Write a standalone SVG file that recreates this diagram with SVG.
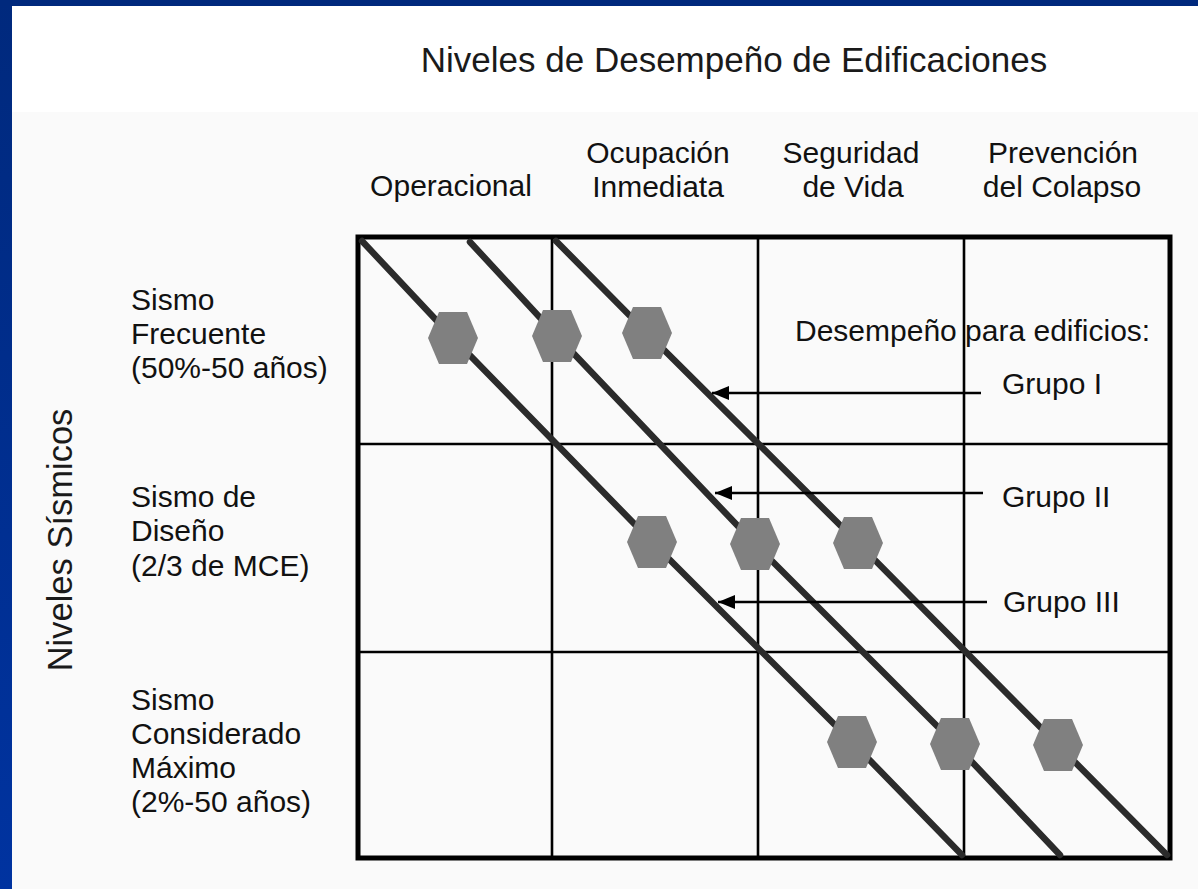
<svg xmlns="http://www.w3.org/2000/svg" width="1198" height="889" viewBox="0 0 1198 889">
  <defs>
    <linearGradient id="leftBlue" x1="0" y1="0" x2="0" y2="1">
      <stop offset="0" stop-color="#00297d"/>
      <stop offset="1" stop-color="#0033a0"/>
    </linearGradient>
    <marker id="arrowHead" markerUnits="userSpaceOnUse" markerWidth="18" markerHeight="16" refX="17" refY="7" orient="auto">
      <path d="M0,0 L17,7 L0,14 Z" fill="#000"/>
    </marker>
    <polygon id="hex" points="-25,0 -14,-26 14,-26 25,0 14,26 -14,26"/>
  </defs>
  <style>
    .t { font-family: "Liberation Sans", Arial, sans-serif; font-size: 30px; fill: #111; }
    .big { font-size: 35px; fill: #1a1a1a; }
    .mid { text-anchor: middle; }
    .outer { fill: none; stroke: #000; stroke-width: 5; }
    .inner { stroke: #000; stroke-width: 2.6; }
    .diag { fill: none; stroke: #2b2b2b; stroke-width: 6.5; stroke-linecap: round; stroke-linejoin: round; }
    .hexfill { fill: #808080; }
    .arrow { stroke: #000; stroke-width: 2.4; marker-end: url(#arrowHead); }
  </style>

  <!-- background and frame -->
  <rect x="0" y="0" width="1198" height="889" fill="#ffffff"/>
  <rect x="12" y="112" width="1186" height="777" fill="#fafafa"/>
  <rect x="0" y="0" width="12" height="889" fill="url(#leftBlue)"/>
  <rect x="0" y="0" width="1198" height="6" fill="#00297d"/>

  <!-- title -->
  <g id="title">
    <text class="t big mid" x="734" y="72">Niveles de Desempeño de Edificaciones</text>
  </g>

  <!-- vertical axis label -->
  <g id="axis-label">
    <text class="t big mid" transform="translate(72,540) rotate(-90)" x="0" y="0" style="font-size:34.5px">Niveles Sísmicos</text>
  </g>

  <!-- column headers -->
  <g id="col-operacional">
    <text class="t mid" x="451" y="196">Operacional</text>
  </g>
  <g id="col-ocupacion">
    <text class="t mid" x="658" y="163">Ocupación</text>
    <text class="t mid" x="658" y="197">Inmediata</text>
  </g>
  <g id="col-seguridad">
    <text class="t mid" x="851" y="163">Seguridad</text>
    <text class="t mid" x="853" y="197">de Vida</text>
  </g>
  <g id="col-prevencion">
    <text class="t mid" x="1063" y="163">Prevención</text>
    <text class="t mid" x="1062" y="197">del Colapso</text>
  </g>

  <!-- row labels -->
  <g id="row-frecuente">
    <text class="t" x="131" y="310">Sismo</text>
    <text class="t" x="131" y="344">Frecuente</text>
    <text class="t" x="131" y="378">(50%-50 años)</text>
  </g>
  <g id="row-diseno">
    <text class="t" x="131" y="507">Sismo de</text>
    <text class="t" x="131" y="541">Diseño</text>
    <text class="t" x="131" y="576">(2/3 de MCE)</text>
  </g>
  <g id="row-maximo">
    <text class="t" x="131" y="710">Sismo</text>
    <text class="t" x="131" y="744">Considerado</text>
    <text class="t" x="131" y="778">Máximo</text>
    <text class="t" x="131" y="812">(2%-50 años)</text>
  </g>

  <!-- grid -->
  <g id="grid">
    <line class="inner" x1="552" y1="237" x2="552" y2="858"/>
    <line class="inner" x1="758" y1="237" x2="758" y2="858"/>
    <line class="inner" x1="964" y1="237" x2="964" y2="858"/>
    <line class="inner" x1="358" y1="444" x2="1170" y2="444"/>
    <line class="inner" x1="358" y1="652" x2="1170" y2="652"/>
    <rect class="outer" x="358" y="237" width="812" height="621"/>
  </g>

  <!-- connectors: performance lines and arrows -->
  <g id="connectors">
    <polyline class="diag" points="362,241 453,338 652,542 852,742 962,855"/>
    <polyline class="diag" points="470,242 557,336 755,544 955,744 1060,855"/>
    <polyline class="diag" points="556,241 647,333 858,543 1058,745 1167,855"/>
    <line class="arrow" x1="981" y1="393" x2="712" y2="393"/>
    <line class="arrow" x1="983" y1="493" x2="715" y2="493"/>
    <line class="arrow" x1="987" y1="602" x2="718" y2="602"/>
  </g>

  <!-- performance points -->
  <g id="hex-I">
    <use href="#hex" class="hexfill" x="647" y="333"/>
    <use href="#hex" class="hexfill" x="858" y="543"/>
    <use href="#hex" class="hexfill" x="1058" y="745"/>
  </g>
  <g id="hex-II">
    <use href="#hex" class="hexfill" x="557" y="336"/>
    <use href="#hex" class="hexfill" x="755" y="544"/>
    <use href="#hex" class="hexfill" x="955" y="744"/>
  </g>
  <g id="hex-III">
    <use href="#hex" class="hexfill" x="453" y="338"/>
    <use href="#hex" class="hexfill" x="652" y="542"/>
    <use href="#hex" class="hexfill" x="852" y="742"/>
  </g>

  <!-- legend labels -->
  <g id="legend-title">
    <text class="t" x="795" y="341">Desempeño para edificios:</text>
  </g>
  <g id="label-grupo-I">
    <text class="t" x="1002" y="394">Grupo I</text>
  </g>
  <g id="label-grupo-II">
    <text class="t" x="1002" y="507">Grupo II</text>
  </g>
  <g id="label-grupo-III">
    <text class="t" x="1003" y="612">Grupo III</text>
  </g>
</svg>
